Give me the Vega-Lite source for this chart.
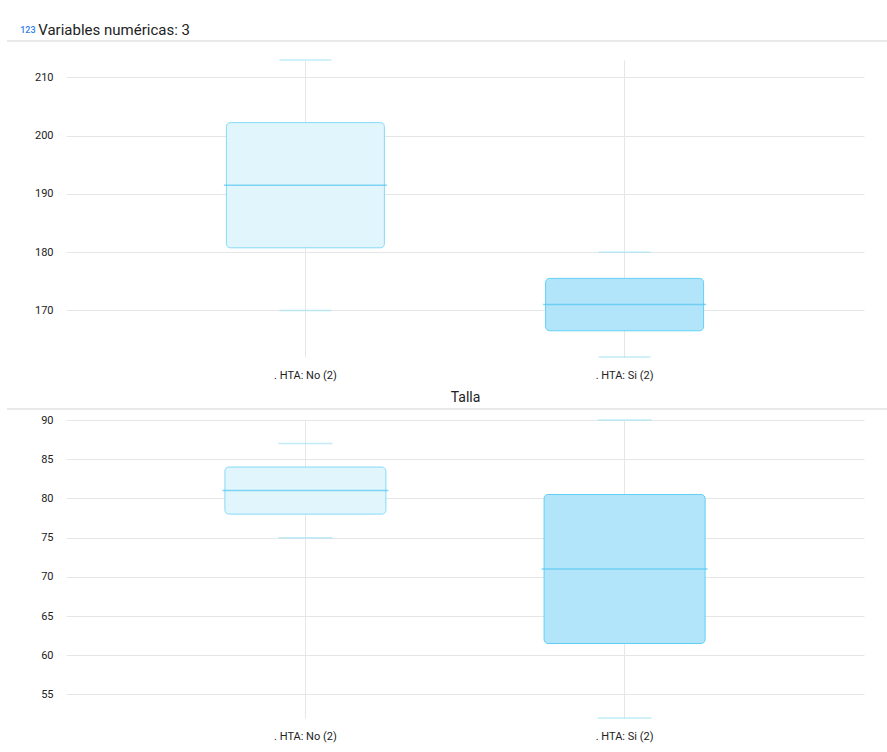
{
  "$schema": "https://vega.github.io/schema/vega-lite/v6.json",
  "background": "white",
  "padding": {"left": 6, "top": 23, "right": 0, "bottom": 0},
  "spacing": 4,
  "title": {"text": "123", "anchor": "start", "fontSize": 9, "color": "#2f80ed", "font": "Roboto", "fontWeight": 500, "dx": 14, "dy": 12, "offset": 0},
  "datasets": {
    "talla": [
      {"group": ". HTA: No (2)", "lower": 170, "q1": 180.75, "median": 191.5, "q3": 202.25, "upper": 213},
      {"group": ". HTA: Si (2)", "lower": 162, "q1": 166.5, "median": 171, "q3": 175.5, "upper": 180}
    ],
    "peso": [
      {"group": ". HTA: No (2)", "lower": 75, "q1": 78, "median": 81, "q3": 84, "upper": 87},
      {"group": ". HTA: Si (2)", "lower": 52, "q1": 61.5, "median": 71, "q3": 80.5, "upper": 90}
    ],
    "sep": [{"a": 0, "b": 1, "v": 1}]
  },
  "vconcat": [
    {
      "width": 822,
      "height": 14,
      "data": {"name": "sep"},
      "title": {"text": "Variables numéricas: 3", "anchor": "start", "fontSize": 15, "fontWeight": "normal", "color": "#222222", "font": "Roboto", "dx": 32, "offset": 2},
      "mark": {"type": "rule", "color": "#e2e2e2", "strokeWidth": 1.5},
      "encoding": {
        "x": {"field": "a", "type": "quantitative", "scale": {"domain": [0, 1], "range": [-59, 822]}, "axis": null},
        "x2": {"field": "b"},
        "y": {"field": "v", "type": "quantitative", "scale": {"domain": [0, 1]}, "axis": null}
      }
    },
    {
      "width": 798,
      "height": 297,
      "data": {"name": "talla"},
      "encoding": {
        "x": {"field": "group", "type": "nominal", "sort": null,
          "scale": {"paddingInner": 0, "paddingOuter": 0.25},
          "axis": {"labelAngle": 0, "grid": true, "gridColor": "#e6e6e6", "domain": false, "ticks": false, "labelPadding": 12, "labelFontSize": 11, "labelColor": "#222222", "title": "Talla", "titleFontSize": 14, "titleFontWeight": "normal", "titleColor": "#222222", "titlePadding": 10}}
      },
      "layer": [
        {"mark": {"type": "tick", "color": "#a6e3f7", "thickness": 1.5, "size": 52},
         "encoding": {"y": {"field": "upper", "type": "quantitative", "scale": {"domain": [162, 213], "nice": false, "zero": false},
           "axis": {"values": [170, 180, 190, 200, 210], "grid": true, "gridColor": "#e6e6e6", "domain": false, "ticks": false, "labelPadding": 13, "labelFontSize": 11, "labelColor": "#222222", "title": null, "minExtent": 59, "maxExtent": 59}}}},
        {"mark": {"type": "tick", "color": "#a6e3f7", "thickness": 1.5, "size": 52},
         "encoding": {"y": {"field": "lower", "type": "quantitative"}}},
        {"mark": {"type": "bar", "cornerRadius": 4, "size": 158, "strokeWidth": 1},
         "encoding": {"y": {"field": "q1", "type": "quantitative"}, "y2": {"field": "q3"},
           "fill": {"field": "group", "type": "nominal", "scale": {"range": ["#e1f5fd", "#b3e5fa"]}, "legend": null},
           "stroke": {"field": "group", "type": "nominal", "scale": {"range": ["#86daf8", "#62d0f5"]}, "legend": null}}},
        {"mark": {"type": "tick", "color": "#52c5f0", "thickness": 1.5, "size": 163},
         "encoding": {"y": {"field": "median", "type": "quantitative"}}}
      ]
    },
    {
      "width": 822,
      "height": 1,
      "data": {"name": "sep"},
      "mark": {"type": "rule", "color": "#e2e2e2", "strokeWidth": 1.5},
      "encoding": {
        "x": {"field": "a", "type": "quantitative", "scale": {"domain": [0, 1], "range": [-59, 822]}, "axis": null},
        "x2": {"field": "b"},
        "y": {"field": "v", "type": "quantitative", "scale": {"domain": [0, 1]}, "axis": null}
      }
    },
    {
      "width": 798,
      "height": 298,
      "data": {"name": "peso"},
      "encoding": {
        "x": {"field": "group", "type": "nominal", "sort": null,
          "scale": {"paddingInner": 0, "paddingOuter": 0.25},
          "axis": {"labelAngle": 0, "grid": true, "gridColor": "#e6e6e6", "domain": false, "ticks": false, "labelPadding": 12, "labelFontSize": 11, "labelColor": "#222222", "title": "Peso", "titleFontSize": 14, "titleFontWeight": "normal", "titleColor": "#222222", "titlePadding": 10}}
      },
      "layer": [
        {"mark": {"type": "tick", "color": "#a6e3f7", "thickness": 1.5, "size": 54},
         "encoding": {"y": {"field": "upper", "type": "quantitative", "scale": {"domain": [52, 90], "nice": false, "zero": false},
           "axis": {"values": [55, 60, 65, 70, 75, 80, 85, 90], "grid": true, "gridColor": "#e6e6e6", "domain": false, "ticks": false, "labelPadding": 13, "labelFontSize": 11, "labelColor": "#222222", "title": null, "minExtent": 59, "maxExtent": 59}}}},
        {"mark": {"type": "tick", "color": "#a6e3f7", "thickness": 1.5, "size": 54},
         "encoding": {"y": {"field": "lower", "type": "quantitative"}}},
        {"mark": {"type": "bar", "cornerRadius": 4, "size": 161, "strokeWidth": 1},
         "encoding": {"y": {"field": "q1", "type": "quantitative"}, "y2": {"field": "q3"},
           "fill": {"field": "group", "type": "nominal", "scale": {"range": ["#e1f5fd", "#b3e5fa"]}, "legend": null},
           "stroke": {"field": "group", "type": "nominal", "scale": {"range": ["#86daf8", "#62d0f5"]}, "legend": null}}},
        {"mark": {"type": "tick", "color": "#52c5f0", "thickness": 1.5, "size": 166},
         "encoding": {"y": {"field": "median", "type": "quantitative"}}}
      ]
    }
  ],
  "config": {
    "font": "Roboto",
    "view": {"stroke": null}
  }
}
